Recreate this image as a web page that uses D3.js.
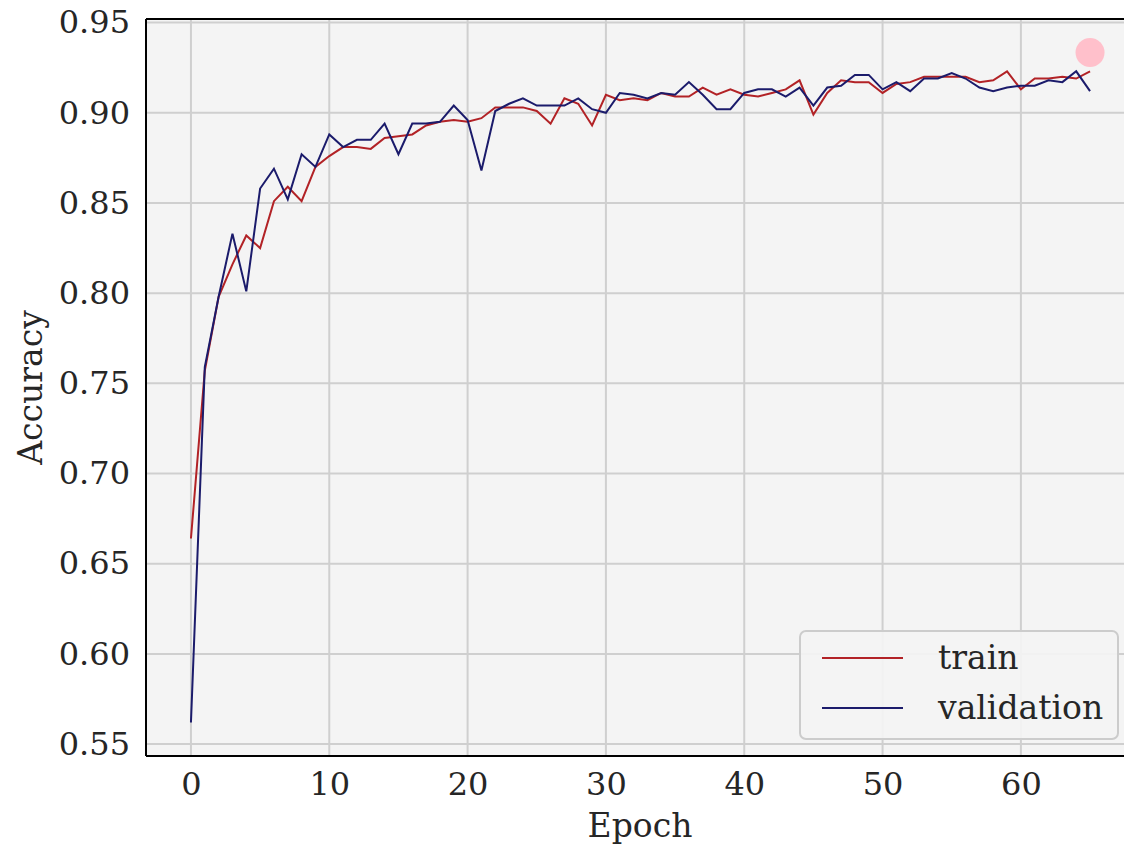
<!DOCTYPE html>
<html>
<head>
<meta charset="utf-8">
<script src="https://cdn.jsdelivr.net/npm/d3@7"></script>
<style>
  body { margin: 0; background: #fff; }
  text { font-family: "DejaVu Serif", serif; fill: #262626; }
</style>
</head>
<body>
<svg id="chart"></svg>
<script>
// epochs 0..65
var epochs = d3.range(0, 66);

var trainAcc = [0.664, 0.757, 0.798, 0.816, 0.832, 0.825, 0.851, 0.859, 0.851, 0.870,
    0.876, 0.881, 0.881, 0.880, 0.886, 0.887, 0.888, 0.893, 0.895, 0.896,
    0.895, 0.897, 0.903, 0.903, 0.903, 0.901, 0.894, 0.908, 0.905, 0.893,
    0.910, 0.907, 0.908, 0.907, 0.911, 0.909, 0.909, 0.914, 0.910, 0.913,
    0.910, 0.909, 0.911, 0.913, 0.918, 0.899, 0.911, 0.918, 0.917, 0.917,
    0.911, 0.916, 0.917, 0.920, 0.920, 0.920, 0.920, 0.917, 0.918, 0.923,
    0.913, 0.919, 0.919, 0.920, 0.919, 0.923];

var valAcc = [0.562, 0.759, 0.798, 0.833, 0.801, 0.858, 0.869, 0.852, 0.877, 0.870,
    0.888, 0.881, 0.885, 0.885, 0.894, 0.877, 0.894, 0.894, 0.895, 0.904,
    0.896, 0.868, 0.901, 0.905, 0.908, 0.904, 0.904, 0.904, 0.908, 0.902,
    0.900, 0.911, 0.910, 0.908, 0.911, 0.910, 0.917, 0.910, 0.902, 0.902,
    0.911, 0.913, 0.913, 0.909, 0.914, 0.904, 0.914, 0.915, 0.921, 0.921,
    0.913, 0.917, 0.912, 0.919, 0.919, 0.922, 0.919, 0.914, 0.912, 0.914,
    0.915, 0.915, 0.918, 0.917, 0.923, 0.912];

// highlighted point
var markEpoch = [65];
var markAcc = [0.9334];

var xTicks = [0, 10, 20, 30, 40, 50, 60];
var yTicks = [0.55, 0.60, 0.65, 0.70, 0.75, 0.80, 0.85, 0.90, 0.95];

var seriesNames = ["train", "validation"];
var seriesColors = ["#b22226", "#1b1b6b"];

const width = 1124;
const height = 844;
const plot = { left: 146, right: 1135, top: 19, bottom: 756 };

var svg = d3.select("#chart")
    .attr("width", width)
    .attr("height", height);

var x = d3.scaleLinear()
    .domain([-3.25, 68.25])
    .range([plot.left, plot.right]);

var y = d3.scaleLinear()
    .domain([0.5434, 0.952])
    .range([plot.bottom, plot.top]);

// plot background
svg.append("rect")
    .attr("x", plot.left)
    .attr("y", plot.top)
    .attr("width", plot.right - plot.left)
    .attr("height", plot.bottom - plot.top)
    .attr("fill", "#f4f4f4");

// grid lines
svg.append("g")
    .selectAll("line")
    .data(xTicks)
    .join("line")
    .attr("x1", d => x(d))
    .attr("x2", d => x(d))
    .attr("y1", plot.top)
    .attr("y2", plot.bottom)
    .attr("stroke", "#cfcfcf")
    .attr("stroke-width", 2);

svg.append("g")
    .selectAll("line")
    .data(yTicks)
    .join("line")
    .attr("x1", plot.left)
    .attr("x2", plot.right)
    .attr("y1", d => y(d))
    .attr("y2", d => y(d))
    .attr("stroke", "#cfcfcf")
    .attr("stroke-width", 2);

// axes (labels only, no tick marks)
var xAxis = svg.append("g")
    .attr("transform", "translate(0," + plot.bottom + ")")
    .call(d3.axisBottom(x).tickValues(xTicks).tickSize(0).tickPadding(15).tickFormat(d3.format("d")));

var yAxis = svg.append("g")
    .attr("transform", "translate(" + plot.left + ",0)")
    .call(d3.axisLeft(y).tickValues(yTicks).tickSize(0).tickPadding(16).tickFormat(d3.format(".2f")));

[xAxis, yAxis].forEach(function(a) {
    a.select(".domain").remove();
    a.selectAll("text")
        .attr("font-family", "DejaVu Serif, serif")
        .attr("font-size", 32)
        .attr("fill", "#262626");
});
xAxis.selectAll("text").attr("dy", "0.75em");

var clip = svg.append("defs").append("clipPath")
    .attr("id", "clip")
    .append("rect")
    .attr("x", plot.left)
    .attr("y", plot.top)
    .attr("width", plot.right - plot.left)
    .attr("height", plot.bottom - plot.top);

var body = svg.append("g").attr("clip-path", "url(#clip)");

var line = function(vals) {
    return d3.line()
        .x(function(d, i) { return x(epochs[i]) })
        .y(function(d) { return y(d) })(vals);
};

[trainAcc, valAcc].forEach(function(vals, k) {
    body.append("path")
        .attr("d", line(vals))
        .attr("fill", "none")
        .attr("stroke", seriesColors[k])
        .attr("stroke-width", 2)
        .attr("stroke-linejoin", "miter");
});

body.selectAll(".mark")
    .data(markEpoch)
    .join("circle")
    .attr("class", "mark")
    .attr("cx", d => x(d))
    .attr("cy", (d, i) => y(markAcc[i]))
    .attr("r", 14.5)
    .attr("fill", "#ffc0cb");

// spines: left, top, bottom
svg.append("line")
    .attr("x1", plot.left).attr("x2", plot.left)
    .attr("y1", plot.top).attr("y2", plot.bottom)
    .attr("stroke", "#000").attr("stroke-width", 2);
svg.append("line")
    .attr("x1", plot.left).attr("x2", plot.right)
    .attr("y1", plot.top).attr("y2", plot.top)
    .attr("stroke", "#000").attr("stroke-width", 2);
svg.append("line")
    .attr("x1", plot.left).attr("x2", plot.right)
    .attr("y1", plot.bottom).attr("y2", plot.bottom)
    .attr("stroke", "#000").attr("stroke-width", 2);

// axis titles
svg.append("text")
    .attr("x", 640)
    .attr("y", 837)
    .attr("text-anchor", "middle")
    .attr("font-size", 33)
    .text("Epoch");

svg.append("text")
    .attr("transform", "translate(42," + (plot.top + plot.bottom) / 2 + ") rotate(-90)")
    .attr("text-anchor", "middle")
    .attr("font-size", 33)
    .text("Accuracy");

// legend
var legend = svg.append("g").attr("transform", "translate(800,631)");

legend.append("rect")
    .attr("width", 318)
    .attr("height", 108)
    .attr("rx", 6)
    .attr("fill", "#f4f4f4")
    .attr("fill-opacity", 0.9)
    .attr("stroke", "#cccccc")
    .attr("stroke-width", 2);

seriesNames.forEach(function(name, k) {
    legend.append("line")
        .attr("x1", 22).attr("x2", 103)
        .attr("y1", 27 + k * 50).attr("y2", 27 + k * 50)
        .attr("stroke", seriesColors[k])
        .attr("stroke-width", 2);
    legend.append("text")
        .attr("x", 138)
        .attr("y", 38 + k * 50)
        .attr("font-size", 33)
        .text(name);
});
</script>
</body>
</html>
